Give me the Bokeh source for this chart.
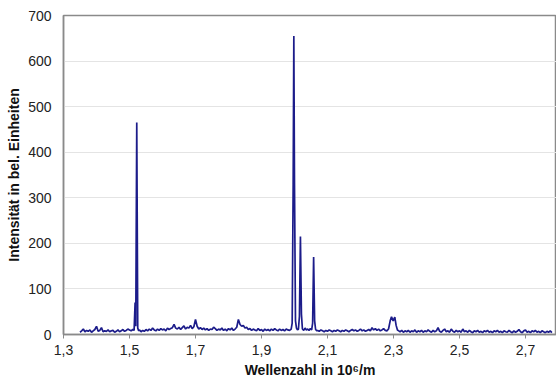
from bokeh.plotting import figure
from bokeh.models import FixedTicker, CustomJSTickFormatter, Range1d
from bokeh.embed import file_html
from bokeh.resources import INLINE

# Wavenumber in 10^6 / m
wavenumber = [
    1.350, 1.355, 1.360, 1.365, 1.370, 1.375, 1.380, 1.385, 1.390, 1.395,
    1.400, 1.405, 1.410, 1.415, 1.420, 1.425, 1.430, 1.435, 1.440, 1.445,
    1.450, 1.455, 1.460, 1.465, 1.470, 1.475, 1.480, 1.485, 1.490, 1.495,
    1.500, 1.505, 1.510, 1.514, 1.517, 1.519, 1.522, 1.525, 1.528, 1.530,
    1.535, 1.540, 1.545, 1.550, 1.555, 1.560, 1.565, 1.570, 1.575, 1.580,
    1.585, 1.590, 1.595, 1.600, 1.605, 1.610, 1.615, 1.620, 1.625, 1.630,
    1.635, 1.640, 1.645, 1.650, 1.655, 1.660, 1.665, 1.670, 1.675, 1.680,
    1.685, 1.690, 1.695, 1.700, 1.705, 1.710, 1.715, 1.720, 1.725, 1.730,
    1.735, 1.740, 1.745, 1.750, 1.755, 1.760, 1.765, 1.770, 1.775, 1.780,
    1.785, 1.790, 1.795, 1.800, 1.805, 1.810, 1.815, 1.820, 1.825, 1.830,
    1.835, 1.840, 1.845, 1.850, 1.855, 1.860, 1.865, 1.870, 1.875, 1.880,
    1.885, 1.890, 1.895, 1.900, 1.905, 1.910, 1.915, 1.920, 1.925, 1.930,
    1.935, 1.940, 1.945, 1.950, 1.955, 1.960, 1.965, 1.970, 1.975, 1.980,
    1.985, 1.990, 1.993, 1.996, 1.998, 2.000, 2.003, 2.006, 2.009, 2.012,
    2.015, 2.018, 2.021, 2.024, 2.028, 2.032, 2.036, 2.040, 2.044, 2.048,
    2.052, 2.055, 2.058, 2.061, 2.064, 2.068, 2.070, 2.075, 2.080, 2.085,
    2.090, 2.095, 2.100, 2.105, 2.110, 2.115, 2.120, 2.125, 2.130, 2.135,
    2.140, 2.145, 2.150, 2.155, 2.160, 2.165, 2.170, 2.175, 2.180, 2.185,
    2.190, 2.195, 2.200, 2.205, 2.210, 2.215, 2.220, 2.225, 2.230, 2.235,
    2.240, 2.245, 2.250, 2.255, 2.260, 2.265, 2.270, 2.275, 2.280, 2.285,
    2.290, 2.294, 2.299, 2.304, 2.308, 2.312, 2.316, 2.320, 2.325, 2.330,
    2.335, 2.340, 2.345, 2.350, 2.355, 2.360, 2.365, 2.370, 2.375, 2.380,
    2.385, 2.390, 2.395, 2.400, 2.405, 2.410, 2.415, 2.420, 2.425, 2.430,
    2.435, 2.440, 2.445, 2.450, 2.455, 2.460, 2.465, 2.470, 2.475, 2.480,
    2.485, 2.490, 2.495, 2.500, 2.505, 2.510, 2.515, 2.520, 2.525, 2.530,
    2.535, 2.540, 2.545, 2.550, 2.555, 2.560, 2.565, 2.570, 2.575, 2.580,
    2.585, 2.590, 2.595, 2.600, 2.605, 2.610, 2.615, 2.620, 2.625, 2.630,
    2.635, 2.640, 2.645, 2.650, 2.655, 2.660, 2.665, 2.670, 2.675, 2.680,
    2.685, 2.690, 2.695, 2.700, 2.705, 2.710, 2.715, 2.720, 2.725, 2.730,
    2.735, 2.740, 2.745, 2.750, 2.755, 2.760, 2.765, 2.770, 2.775, 2.780,
]

# Intensity in arbitrary units
intensity = [
    5, 8, 12, 6, 9, 7, 10, 5, 8, 11,
    18, 7, 9, 15, 6, 8, 7, 10, 6, 8,
    9, 5, 7, 10, 6, 8, 11, 7, 9, 12,
    10, 8, 11, 9, 70, 18, 465, 14, 8, 10,
    6, 9, 7, 11, 8, 12, 9, 14, 10, 8,
    12, 9, 13, 10, 12, 8, 14, 11, 13, 15,
    22, 14, 12, 16, 11, 15, 19, 12, 16, 14,
    20, 13, 17, 33, 18, 12, 15, 11, 14, 10,
    13, 9, 12, 11, 16, 13, 9, 12, 10, 14,
    9, 12, 8, 13, 10, 14, 9, 12, 16, 33,
    22, 18, 20, 14, 16, 11, 13, 9, 12, 10,
    8, 13, 9, 11, 7, 12, 9, 11, 8, 12,
    9, 13, 10, 8, 12, 9, 11, 8, 12, 10,
    9, 12, 25, 330, 655, 330, 30, 14, 10, 12,
    40, 215, 45, 12, 9, 14, 10, 12, 9, 13,
    10, 25, 170, 30, 11, 8, 9, 7, 10, 8,
    6, 9, 7, 10, 8, 6, 9, 7, 10, 8,
    6, 9, 7, 10, 8, 6, 9, 11, 8, 10,
    7, 9, 12, 8, 10, 7, 9, 11, 8, 15,
    10, 13, 9, 12, 8, 10, 13, 9, 8, 12,
    30, 39, 30, 38, 20, 10, 8, 6, 9, 5,
    8, 6, 9, 5, 8, 6, 10, 5, 8, 6,
    9, 5, 8, 6, 10, 7, 5, 9, 6, 8,
    15, 7, 5, 9, 12, 6, 8, 5, 12, 7,
    5, 9, 6, 8, 5, 12, 6, 8, 5, 9,
    6, 4, 8, 6, 9, 5, 7, 4, 8, 6,
    9, 5, 7, 4, 8, 6, 9, 5, 7, 4,
    8, 6, 5, 9, 6, 4, 8, 5, 7, 11,
    6, 4, 8, 10, 5, 7, 4, 8, 6, 9,
    5, 7, 4, 8, 6, 4, 7, 5, 8, 4,
]

x_ticks = [1.3, 1.5, 1.7, 1.9, 2.1, 2.3, 2.5, 2.7]
y_ticks = [0, 100, 200, 300, 400, 500, 600, 700]

FONT = "Liberation Sans"

p = figure(
    width=556, height=381,
    output_backend="svg", toolbar_location=None,
    x_range=Range1d(1.3, 2.794), y_range=Range1d(0, 700),
    min_border_left=63, min_border_right=0,
    min_border_top=15, min_border_bottom=47,
)

p.line(wavenumber, intensity, line_color="#1c1c8a", line_width=1.7)

p.background_fill_color = "white"
p.border_fill_color = "white"
p.outline_line_color = "#8a8a8a"
p.outline_line_width = 1.5

p.xgrid.visible = False
p.ygrid.grid_line_color = "#e4e4e4"
p.ygrid.grid_line_width = 1

p.xaxis.ticker = FixedTicker(ticks=x_ticks)
p.xaxis.formatter = CustomJSTickFormatter(code="return tick.toFixed(1).replace('.', ',');")
p.yaxis.ticker = FixedTicker(ticks=y_ticks)

for ax in (p.xaxis[0], p.yaxis[0]):
    ax.axis_line_color = "#8a8a8a"
    ax.axis_line_width = 1.5
    ax.major_tick_line_color = "#8a8a8a"
    ax.minor_tick_line_color = None
    ax.major_label_text_font = FONT
    ax.major_label_text_font_size = "14px"
    ax.major_label_text_color = "#222222"
    ax.axis_label_text_font = FONT
    ax.axis_label_text_font_size = "14px"
    ax.axis_label_text_font_style = "bold"
    ax.axis_label_text_color = "#111111"

p.xaxis.major_tick_in = 0
p.xaxis.major_tick_out = 4
p.xaxis.major_label_standoff = 6
p.xaxis.axis_label = "Wellenzahl in 10\u2076/m"
p.xaxis.axis_label_standoff = 4

p.yaxis.major_tick_in = 0
p.yaxis.major_tick_out = 0
p.yaxis.major_label_standoff = 12
p.yaxis.axis_label = "Intensität in bel. Einheiten"
p.yaxis.axis_label_standoff = 3

open("out.html", "w").write(file_html(p, INLINE))
